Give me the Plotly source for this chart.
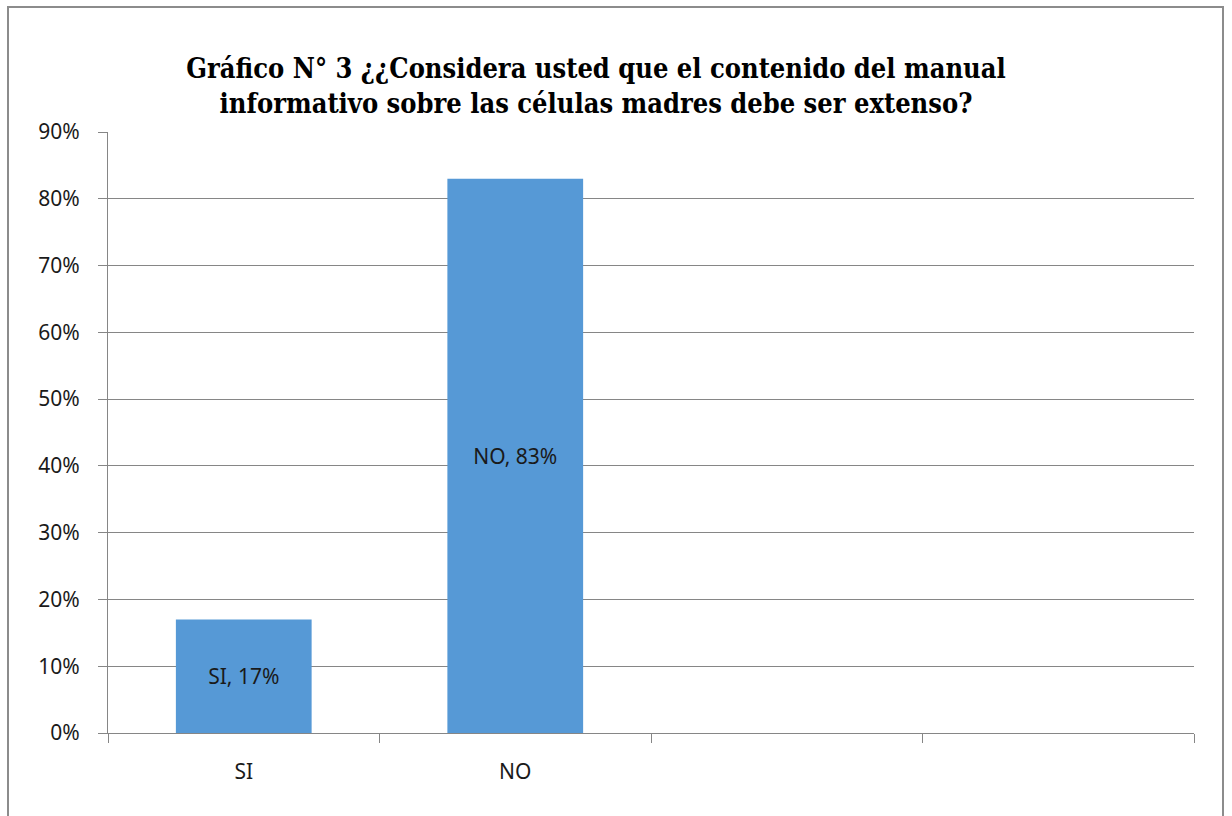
import plotly.graph_objects as go

categories = ["SI", "NO", " ", "  "]
values = [0.17, 0.83, None, None]
labels = ["SI, 17%", "NO, 83%", "", ""]
y_ticks = [0, 0.1, 0.2, 0.3, 0.4, 0.5, 0.6, 0.7, 0.8, 0.9]
y_tick_text = ["0%", "10%", "20%", "30%", "40%", "50%", "60%", "70%", "80%", "90%"]
title_text = ("Gráfico N° 3 ¿¿Considera usted que el contenido del manual<br>"
              "informativo sobre las células madres debe ser extenso?")

W, H = 1232, 816
ml, mr, mt, mb = 108, 38, 132, 83

fig = go.Figure()
fig.add_trace(go.Bar(
    x=categories, y=values, text=labels,
    textposition="inside", insidetextanchor="middle",
    textfont=dict(family="Noto Sans", size=21, color="#1a1a1a"),
    marker=dict(color="#5699d6", line=dict(width=0)),
    width=0.5, hoverinfo="skip",
))

fig.update_layout(
    width=W, height=H,
    margin=dict(l=ml, r=mr, t=mt, b=mb, autoexpand=False),
    paper_bgcolor="white", plot_bgcolor="white",
    showlegend=False,
    title=dict(text=title_text, x=596 / W, xanchor="center",
               y=1 - 78 / H, yanchor="middle",
               font=dict(family="DejaVu Serif Condensed",
                         size=27, color="black", weight="bold")),
    xaxis=dict(type="category", range=[-0.5, 3.5], tickson="boundaries",
               ticks="outside", ticklen=9, tickcolor="#868686",
               showline=True, linecolor="#868686", linewidth=1,
               showgrid=False, ticklabelstandoff=20,
               tickfont=dict(family="Noto Sans", size=21, color="#1a1a1a")),
    yaxis=dict(range=[0, 0.9], tickvals=y_ticks, ticktext=y_tick_text,
               ticks="outside", ticklen=9, tickcolor="#868686",
               showline=True, linecolor="#868686", linewidth=1,
               showgrid=True, gridcolor="#868686", gridwidth=1,
               zeroline=False, ticklabelstandoff=14,
               tickfont=dict(family="Noto Sans", size=21, color="#1a1a1a")),
    font=dict(family="Noto Sans"),
)

pw, ph = W - ml - mr, H - mt - mb
fig.add_shape(type="rect", xref="paper", yref="paper",
              x0=(8 - ml) / pw, x1=(1223 - ml) / pw,
              y0=(H - mb - 830) / ph, y1=(H - mb - 7) / ph,
              line=dict(color="#8c8c8c", width=2), fillcolor="rgba(0,0,0,0)",
              layer="below")

fig.write_html("out.html")
